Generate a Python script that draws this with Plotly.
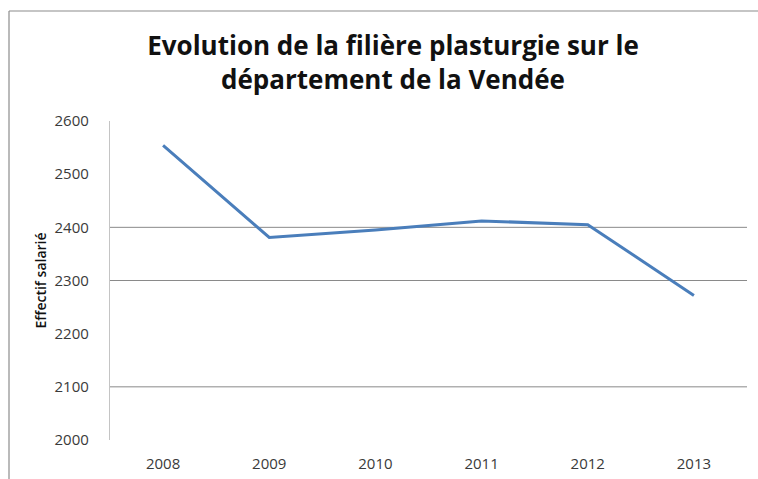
import plotly.graph_objects as go

# data
years = ["2008", "2009", "2010", "2011", "2012", "2013"]
effectif = [2554, 2381, 2395, 2412, 2405, 2272]
y_ticks = [2000, 2100, 2200, 2300, 2400, 2500, 2600]
grid_levels = [2100, 2300, 2400]  # only these lines show in the picture

title_text = "Evolution de la filière plasturgie sur le<br>département de la Vendée"
y_title = "Effectif salarié"

W, H = 758, 479
ML, MR, MT, MB = 110, 11, 121, 39

font_main = "Open Sans, Lato, sans-serif"

fig = go.Figure()
fig.add_trace(go.Scatter(
    x=years, y=effectif, mode="lines",
    line=dict(color="#4a7ebb", width=3),
    hoverinfo="x+y", showlegend=False,
))

shapes = []
for g in grid_levels:
    shapes.append(dict(type="line", xref="paper", yref="y", x0=0, x1=1, y0=g, y1=g,
                       line=dict(color="#8a8a8a", width=1), layer="below"))

# chart frame (left + top edge visible, rest cropped)
pw = W - ML - MR
ph = H - MT - MB
fx0 = (9 - ML) / pw
fy1 = (H - MB - 11) / ph
shapes.append(dict(type="line", xref="paper", yref="paper", x0=fx0, x1=fx0, y0=-1, y1=fy1,
                   line=dict(color="#8c8c8c", width=1.2)))
shapes.append(dict(type="line", xref="paper", yref="paper", x0=fx0, x1=2, y0=fy1, y1=fy1,
                   line=dict(color="#8c8c8c", width=1.2)))

fig.update_layout(
    width=W, height=H,
    margin=dict(l=ML, r=MR, t=MT, b=MB, autoexpand=False),
    paper_bgcolor="white", plot_bgcolor="white",
    title=dict(text=title_text, x=393 / W, xanchor="center", y=1 - 55 / H, yanchor="top",
               yref="container", xref="container", automargin=False,
               font=dict(family=font_main, size=26, color="#111111", weight="bold")),
    xaxis=dict(type="category", range=[-0.5, 5.5], showgrid=False, showline=False,
               zeroline=False, ticks="", ticklabelstandoff=13, automargin=False,
               tickfont=dict(family=font_main, size=15, color="#3a3a3a")),
    yaxis=dict(range=[2000, 2600], tickvals=y_ticks, showgrid=False, zeroline=False,
               showline=True, linecolor="#c4c4c4", linewidth=1.3, ticks="",
               ticklabelstandoff=17, automargin=False,
               tickfont=dict(family=font_main, size=15, color="#3a3a3a"),
               title=dict(text=y_title, standoff=4,
                          font=dict(family=font_main, size=14, color="#111111", weight=600))),
    shapes=shapes,
)

# page body has an 8px default margin; drop it so the figure sits at (0, 0)
fig.write_html("out.html", config={"displayModeBar": False},
               post_script="document.body.style.margin='0';")
